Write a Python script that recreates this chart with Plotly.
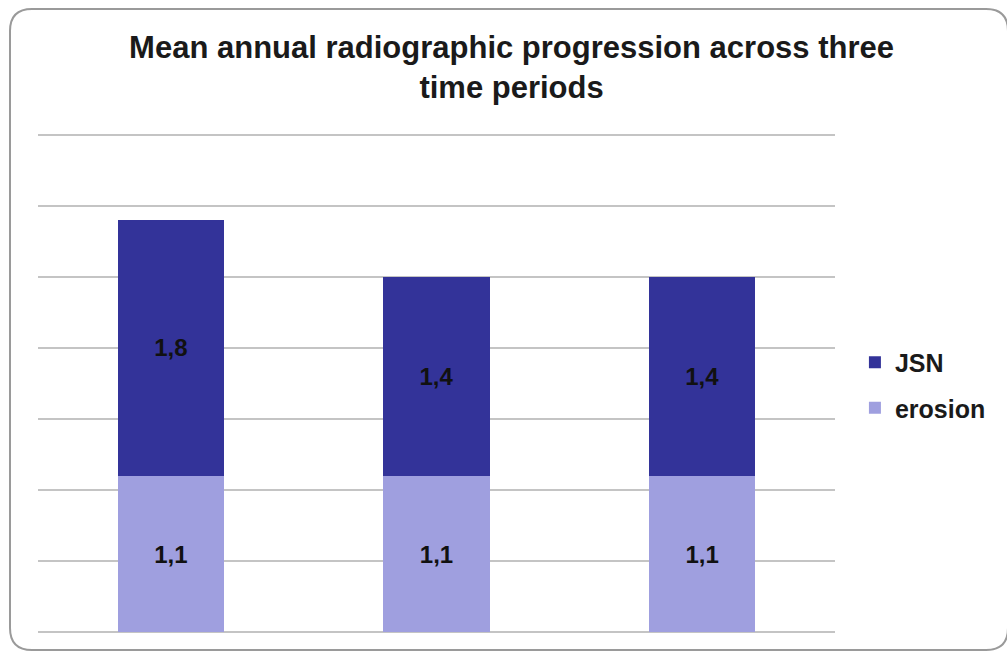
import plotly.graph_objects as go

# Three time periods (unlabelled on the axis)
periods = ["P1", "P2", "P3"]
erosion = [1.1, 1.1, 1.1]
jsn = [1.8, 1.4, 1.4]

JSN_COLOR = "#333399"
EROSION_COLOR = "#9f9fdf"
FONT = "Liberation Sans, Arial"
label_font = dict(family=FONT, size=24, color="#111111", weight="bold")

fig = go.Figure()
fig.add_trace(go.Bar(
    x=periods, y=erosion, name="erosion", legendgroup="erosion", legendrank=2,
    marker=dict(color=EROSION_COLOR, line=dict(width=0)),
    text=erosion, texttemplate="%{y:.1f}",
    textposition="inside", insidetextanchor="middle",
    textfont=label_font, textangle=0,
))
fig.add_trace(go.Bar(
    x=periods, y=jsn, name="JSN", legendgroup="jsn", legendrank=1,
    marker=dict(color=JSN_COLOR, line=dict(width=0)),
    text=jsn, texttemplate="%{y:.1f}",
    textposition="inside", insidetextanchor="middle",
    textfont=label_font, textangle=0,
))

# Rounded frame around the whole chart, in pixels from the plot's bottom-left
L, R, T, B, r = -28, 970, 626, -15, 22
frame = (f"M {L+r},{T} L {R-r},{T} Q {R},{T} {R},{T-r} L {R},{B+r} "
         f"Q {R},{B} {R-r},{B} L {L+r},{B} Q {L},{B} {L},{B+r} "
         f"L {L},{T-r} Q {L},{T} {L+r},{T} Z")

fig.update_layout(
    width=1007, height=654,
    margin=dict(l=38, r=172, t=132, b=19),
    paper_bgcolor="white", plot_bgcolor="white",
    barmode="stack", bargap=0.6,
    separators=",.",
    uniformtext=dict(minsize=10, mode="show"),
    title=dict(
        text="Mean annual radiographic progression across three<br>time periods",
        x=0.508, xanchor="center", y=0.912, yanchor="top",
        font=dict(family=FONT, size=31, color="#1a1a1a", weight="bold"),
    ),
    xaxis=dict(showticklabels=False, showgrid=False, zeroline=False,
               showline=False, ticks=""),
    yaxis=dict(range=[-0.02, 3.52], tickvals=[0, 0.5, 1, 1.5, 2, 2.5, 3, 3.5],
               showticklabels=False,
               showgrid=True, gridcolor="#c4c4c4", gridwidth=1.5,
               zeroline=False, showline=False, ticks=""),
    legend=dict(
        x=1.025, y=0.497, xanchor="left", yanchor="middle",
        traceorder="grouped",
        font=dict(family=FONT, size=25, color="#1a1a1a", weight="bold"),
        itemwidth=30, tracegroupgap=10,
    ),
    shapes=[dict(
        type="path", path=frame,
        xref="paper", yref="paper", xanchor=0, yanchor=0,
        xsizemode="pixel", ysizemode="pixel",
        line=dict(color="#9a9a9a", width=2), fillcolor="rgba(0,0,0,0)",
        layer="above",
    )],
    showlegend=True,
)

fig.write_html("out.html")
